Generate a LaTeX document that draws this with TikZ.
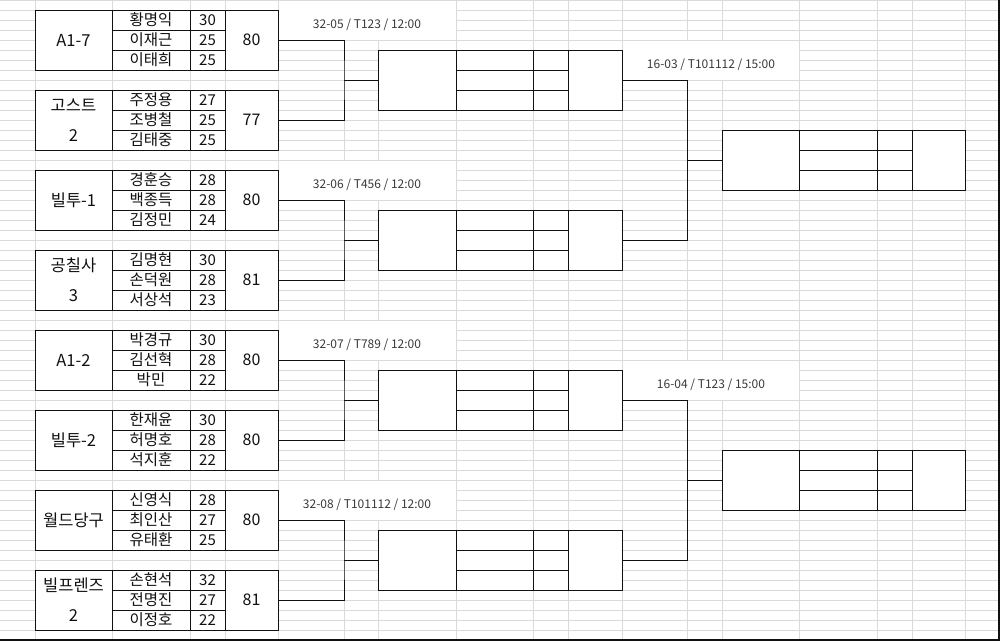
\documentclass[tikz,border=0pt]{standalone}
\usepackage{fontspec}
\setmainfont{Noto Sans CJK KR}
\definecolor{gridgray}{HTML}{DADADA}
\definecolor{taggray}{HTML}{3A3A3A}
\definecolor{inkblack}{HTML}{111111}
\begin{document}
\begin{tikzpicture}[x=1pt,y=-1pt,
 cell/.style={draw=inkblack,fill=white,line width=1pt,inner sep=0pt,outer sep=0pt,text=inkblack},
 teamcell/.style={cell,minimum width=77pt,minimum height=60pt,align=center,font=\fontsize{16.5}{30}\selectfont},
 namecell/.style={cell,minimum width=78pt,minimum height=20pt,font=\fontsize{15.5}{18}\selectfont},
 ptcell/.style={cell,minimum width=35pt,minimum height=20pt,font=\fontsize{15}{18}\selectfont},
 totcell/.style={cell,minimum width=53pt,minimum height=60pt,font=\fontsize{16}{20}\selectfont},
 slotcell/.style={cell,minimum width=78pt,minimum height=60pt},
 rowcell/.style={cell,minimum width=77pt,minimum height=20pt},
 pcell/.style={cell,minimum width=35pt,minimum height=20pt},
 endcell/.style={cell,minimum width=54pt,minimum height=60pt},
 tag/.style={inner sep=0pt,text=taggray,font=\fontsize{12}{14}\selectfont},
 wire/.style={draw=inkblack,line width=1pt},
 gridline/.style={draw=gridgray,line width=1pt}]
\useasboundingbox (0,0) rectangle (1000,641);
\foreach \y in {0,10,...,630} \draw[gridline] (0,\y) -- (998,\y);
\foreach \x in {35,112,190,225,278,344,378,456,533,568,622,687,722,799,877,912,965} \draw[gridline] (\x,0) -- (\x,640);
\fill[white] (278.5,0.5) rectangle (455.5,39.5); \fill[white] (278.5,160.5) rectangle (455.5,199.5);
\fill[white] (278.5,320.5) rectangle (455.5,359.5); \fill[white] (278.5,480.5) rectangle (455.5,519.5);
\fill[white] (622.5,40.5) rectangle (798.5,79.5); \fill[white] (622.5,360.5) rectangle (798.5,399.5);

\node[teamcell] (tm1) at (73.5,40) {A1-7};
\node[namecell] (pl1a) at (151,20) {황명익}; \node[namecell] (pl1b) at (151,40) {이재근}; \node[namecell] (pl1c) at (151,60) {이태희};
\node[ptcell] (pt1a) at (207.5,20) {30}; \node[ptcell] (pt1b) at (207.5,40) {25}; \node[ptcell] (pt1c) at (207.5,60) {25};
\node[totcell] (tot1) at (251.5,40) {80};

\node[teamcell] (tm2) at (73.5,120) {고스트\\2};
\node[namecell] (pl2a) at (151,100) {주정용}; \node[namecell] (pl2b) at (151,120) {조병철}; \node[namecell] (pl2c) at (151,140) {김태중};
\node[ptcell] (pt2a) at (207.5,100) {27}; \node[ptcell] (pt2b) at (207.5,120) {25}; \node[ptcell] (pt2c) at (207.5,140) {25};
\node[totcell] (tot2) at (251.5,120) {77};

\node[teamcell] (tm3) at (73.5,200) {빌투-1};
\node[namecell] (pl3a) at (151,180) {경훈승}; \node[namecell] (pl3b) at (151,200) {백종득}; \node[namecell] (pl3c) at (151,220) {김정민};
\node[ptcell] (pt3a) at (207.5,180) {28}; \node[ptcell] (pt3b) at (207.5,200) {28}; \node[ptcell] (pt3c) at (207.5,220) {24};
\node[totcell] (tot3) at (251.5,200) {80};

\node[teamcell] (tm4) at (73.5,280) {공칠사\\3};
\node[namecell] (pl4a) at (151,260) {김명현}; \node[namecell] (pl4b) at (151,280) {손덕원}; \node[namecell] (pl4c) at (151,300) {서상석};
\node[ptcell] (pt4a) at (207.5,260) {30}; \node[ptcell] (pt4b) at (207.5,280) {28}; \node[ptcell] (pt4c) at (207.5,300) {23};
\node[totcell] (tot4) at (251.5,280) {81};

\node[teamcell] (tm5) at (73.5,360) {A1-2};
\node[namecell] (pl5a) at (151,340) {박경규}; \node[namecell] (pl5b) at (151,360) {김선혁}; \node[namecell] (pl5c) at (151,380) {박민};
\node[ptcell] (pt5a) at (207.5,340) {30}; \node[ptcell] (pt5b) at (207.5,360) {28}; \node[ptcell] (pt5c) at (207.5,380) {22};
\node[totcell] (tot5) at (251.5,360) {80};

\node[teamcell] (tm6) at (73.5,440) {빌투-2};
\node[namecell] (pl6a) at (151,420) {한재윤}; \node[namecell] (pl6b) at (151,440) {허명호}; \node[namecell] (pl6c) at (151,460) {석지훈};
\node[ptcell] (pt6a) at (207.5,420) {30}; \node[ptcell] (pt6b) at (207.5,440) {28}; \node[ptcell] (pt6c) at (207.5,460) {22};
\node[totcell] (tot6) at (251.5,440) {80};

\node[teamcell] (tm7) at (73.5,520) {월드당구};
\node[namecell] (pl7a) at (151,500) {신영식}; \node[namecell] (pl7b) at (151,520) {최인산}; \node[namecell] (pl7c) at (151,540) {유태환};
\node[ptcell] (pt7a) at (207.5,500) {28}; \node[ptcell] (pt7b) at (207.5,520) {27}; \node[ptcell] (pt7c) at (207.5,540) {25};
\node[totcell] (tot7) at (251.5,520) {80};

\node[teamcell] (tm8) at (73.5,600) {빌프렌즈\\2};
\node[namecell] (pl8a) at (151,580) {손현석}; \node[namecell] (pl8b) at (151,600) {전명진}; \node[namecell] (pl8c) at (151,620) {이정호};
\node[ptcell] (pt8a) at (207.5,580) {32}; \node[ptcell] (pt8b) at (207.5,600) {27}; \node[ptcell] (pt8c) at (207.5,620) {22};
\node[totcell] (tot8) at (251.5,600) {81};

\node[slotcell] (m1) at (417,80) {}; \node[endcell] (e1) at (595,80) {};
\node[rowcell] (r1a) at (494.5,60) {}; \node[rowcell] (r1b) at (494.5,80) {}; \node[rowcell] (r1c) at (494.5,100) {};
\node[pcell] (q1a) at (550.5,60) {}; \node[pcell] (q1b) at (550.5,80) {}; \node[pcell] (q1c) at (550.5,100) {};

\node[slotcell] (m2) at (417,240) {}; \node[endcell] (e2) at (595,240) {};
\node[rowcell] (r2a) at (494.5,220) {}; \node[rowcell] (r2b) at (494.5,240) {}; \node[rowcell] (r2c) at (494.5,260) {};
\node[pcell] (q2a) at (550.5,220) {}; \node[pcell] (q2b) at (550.5,240) {}; \node[pcell] (q2c) at (550.5,260) {};

\node[slotcell] (m3) at (417,400) {}; \node[endcell] (e3) at (595,400) {};
\node[rowcell] (r3a) at (494.5,380) {}; \node[rowcell] (r3b) at (494.5,400) {}; \node[rowcell] (r3c) at (494.5,420) {};
\node[pcell] (q3a) at (550.5,380) {}; \node[pcell] (q3b) at (550.5,400) {}; \node[pcell] (q3c) at (550.5,420) {};

\node[slotcell] (m4) at (417,560) {}; \node[endcell] (e4) at (595,560) {};
\node[rowcell] (r4a) at (494.5,540) {}; \node[rowcell] (r4b) at (494.5,560) {}; \node[rowcell] (r4c) at (494.5,580) {};
\node[pcell] (q4a) at (550.5,540) {}; \node[pcell] (q4b) at (550.5,560) {}; \node[pcell] (q4c) at (550.5,580) {};

\node[rowcell] (f1) at (760.5,160) [minimum height=60pt] {}; \node[endcell,minimum width=53pt] (e5) at (938.5,160) {};
\node[slotcell,minimum height=20pt] (r5a) at (838,140) {}; \node[slotcell,minimum height=20pt] (r5b) at (838,160) {}; \node[slotcell,minimum height=20pt] (r5c) at (838,180) {};
\node[pcell] (q5a) at (894.5,140) {}; \node[pcell] (q5b) at (894.5,160) {}; \node[pcell] (q5c) at (894.5,180) {};

\node[rowcell] (f2) at (760.5,480) [minimum height=60pt] {}; \node[endcell,minimum width=53pt] (e6) at (938.5,480) {};
\node[slotcell,minimum height=20pt] (r6a) at (838,460) {}; \node[slotcell,minimum height=20pt] (r6b) at (838,480) {}; \node[slotcell,minimum height=20pt] (r6c) at (838,500) {};
\node[pcell] (q6a) at (894.5,460) {}; \node[pcell] (q6b) at (894.5,480) {}; \node[pcell] (q6c) at (894.5,500) {};

\node[tag] (tag1) at (367,25) {32-05 / T123 / 12:00};
\node[tag] (tag2) at (367,185) {32-06 / T456 / 12:00};
\node[tag] (tag3) at (367,345) {32-07 / T789 / 12:00};
\node[tag] (tag4) at (367,505) {32-08 / T101112 / 12:00};
\node[tag] (tag5) at (711,65) {16-03 / T101112 / 15:00};
\node[tag] (tag6) at (711,385) {16-04 / T123 / 15:00};

\coordinate (j1) at (344,80); \coordinate (j2) at (344,240); \coordinate (j3) at (344,400); \coordinate (j4) at (344,560);
\coordinate (k1) at (687,160); \coordinate (k2) at (687,480);
\draw[wire] (tot1.east) -| (j1) |- (tot2.east); \draw[wire] (j1) -- (m1.west);
\draw[wire] (tot3.east) -| (j2) |- (tot4.east); \draw[wire] (j2) -- (m2.west);
\draw[wire] (tot5.east) -| (j3) |- (tot6.east); \draw[wire] (j3) -- (m3.west);
\draw[wire] (tot7.east) -| (j4) |- (tot8.east); \draw[wire] (j4) -- (m4.west);
\draw[wire] (e1.east) -| (k1) |- (e2.east); \draw[wire] (k1) -- (f1.west);
\draw[wire] (e3.east) -| (k2) |- (e4.east); \draw[wire] (k2) -- (f2.west);

\draw[line width=2pt,inkblack] (999,0) -- (999,641);
\draw[line width=2pt,inkblack] (0,640) -- (1000,640);
\end{tikzpicture}
\end{document}
